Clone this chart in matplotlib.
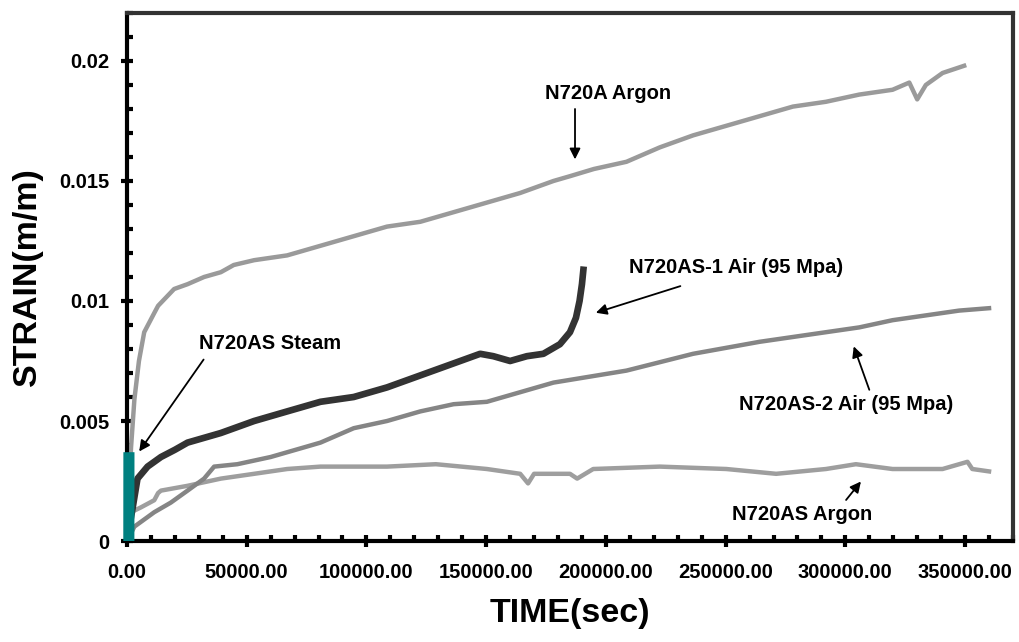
import matplotlib
matplotlib.use("Agg")
import matplotlib.pyplot as plt
from matplotlib.ticker import MultipleLocator, FuncFormatter

plt.rcParams['font.family'] = ['Liberation Sans', 'DejaVu Sans']
plt.rcParams['font.weight'] = 'bold'

# ---- data (time in sec, strain in m/m) ----
t_n720a_ar = [0, 800, 1700, 3100, 5000, 7200, 11400, 13000, 19700, 25300, 32200, 39200,
              44600, 53100, 66900, 80800, 94700, 108600, 122500, 136400, 150300, 164200,
              178100, 185000, 195000, 208600, 222500, 236400, 250300, 264200, 278100,
              291900, 305800, 319700, 326700, 330000, 333600, 340600, 349600]
s_n720a_ar = [0, 0.0020, 0.0039, 0.0059, 0.0075, 0.0087, 0.0095, 0.0098, 0.0105, 0.0107,
              0.0110, 0.0112, 0.0115, 0.0117, 0.0119, 0.0123, 0.0127, 0.0131, 0.0133,
              0.0137, 0.0141, 0.0145, 0.0150, 0.0152, 0.0155, 0.0158, 0.0164, 0.0169,
              0.0173, 0.0177, 0.0181, 0.0183, 0.0186, 0.0188, 0.0191, 0.0184, 0.0190,
              0.0195, 0.0198]

t_as_ar = [0, 1700, 5800, 11400, 13000, 14200, 25300, 39200, 53100, 66900, 80800, 94700,
           108600, 129000, 150300, 164200, 167500, 170000, 178100, 185000, 188000, 194700,
           222500, 250300, 271100, 291900, 304400, 319700, 340600, 351000, 353000, 360000]
s_as_ar = [0, 0.0012, 0.0014, 0.0017, 0.0020, 0.0021, 0.0023, 0.0026, 0.0028, 0.0030,
           0.0031, 0.0031, 0.0031, 0.0032, 0.0030, 0.0028, 0.0024, 0.0028, 0.0028, 0.0028,
           0.0026, 0.0030, 0.0031, 0.0030, 0.0028, 0.0030, 0.0032, 0.0030, 0.0030, 0.0033,
           0.0030, 0.0029]

t_as2_air = [0, 3100, 11400, 18300, 25300, 32200, 36400, 46100, 60000, 73900, 80800, 94700,
             108600, 122500, 136400, 150300, 164200, 178100, 208600, 236400, 264200,
             291900, 305800, 319700, 333600, 347500, 360000]
s_as2_air = [0, 0.0006, 0.0012, 0.0016, 0.0021, 0.0026, 0.0031, 0.0032, 0.0035, 0.0039,
             0.0041, 0.0047, 0.0050, 0.0054, 0.0057, 0.0058, 0.0062, 0.0066, 0.0071,
             0.0078, 0.0083, 0.0087, 0.0089, 0.0092, 0.0094, 0.0096, 0.0097]

t_as1_air = [0, 2400, 4400, 8600, 14200, 20000, 25300, 39200, 53100, 66900, 80800, 94700,
             108600, 122500, 136400, 147500, 153000, 160000, 167000, 173900, 180800,
             185000, 187500, 189000, 190000, 190600]
s_as1_air = [0, 0.0014, 0.0026, 0.0031, 0.0035, 0.0038, 0.0041, 0.0045, 0.0050, 0.0054,
             0.0058, 0.0060, 0.0064, 0.0069, 0.0074, 0.0078, 0.0077, 0.0075, 0.0077,
             0.0078, 0.0082, 0.0087, 0.0093, 0.0100, 0.0107, 0.0113]

t_steam = [780, 790, 800, 810, 820]
s_steam = [0, 0.0010, 0.0020, 0.0030, 0.0037]

xticks = [0, 50000, 100000, 150000, 200000, 250000, 300000, 350000]
yticks = [0, 0.005, 0.01, 0.015, 0.02]
ylabels = ['0', '0.005', '0.01', '0.015', '0.02']

fig = plt.figure(figsize=(10.19, 6.42), dpi=100)
ax = fig.add_axes([0.1246, 0.1573, 0.8695, 0.8225])

ax.plot(t_n720a_ar, s_n720a_ar, color='#9a9a9a', lw=3.2)
ax.plot(t_as_ar, s_as_ar, color='#9e9e9e', lw=3.2)
ax.plot(t_as2_air, s_as2_air, color='#858585', lw=3.2)
ax.plot(t_as1_air, s_as1_air, color='#333333', lw=4.8)
# steam run is a dense vertical scribble drawn over the axis line
ax.plot(t_steam, s_steam, color='#008080', lw=8, solid_capstyle='butt', clip_on=False, zorder=5)
ax.plot([t_steam[0]], [s_steam[0] + 0.0002], '+', color='#008080', ms=7, mew=1.5,
        clip_on=False, zorder=5)

ax.set_xlim(0, 370000)
ax.set_ylim(0, 0.022)
ax.set_xticks(xticks)
ax.xaxis.set_major_formatter(FuncFormatter(lambda v, p: f'{v:.2f}'))
ax.xaxis.set_minor_locator(MultipleLocator(10000))
ax.set_yticks(yticks)
ax.set_yticklabels(ylabels)
ax.yaxis.set_minor_locator(MultipleLocator(0.001))

ax.tick_params(which='major', direction='inout', length=9, width=3, color='black',
               labelsize=14.5, pad=8)
ax.tick_params(which='minor', direction='in', length=4, width=3, color='black')
ax.tick_params(axis='x', which='major', pad=11)
for lab in ax.get_xticklabels() + ax.get_yticklabels():
    lab.set_fontweight('bold')

for side in ('left', 'bottom'):
    ax.spines[side].set_linewidth(3)
    ax.spines[side].set_color('black')
for side in ('top', 'right'):
    ax.spines[side].set_linewidth(3)
    ax.spines[side].set_color('#333333')

ax.set_xlabel('TIME(sec)', fontsize=24.5, fontweight='bold', labelpad=12)
ax.set_ylabel('STRAIN(m/m)', fontsize=24.5, fontweight='bold', labelpad=12)

# annotations
arrow = dict(arrowstyle='-|>', color='black', lw=1.3, mutation_scale=16, shrinkA=0, shrinkB=0)
tkw = dict(fontsize=14.5, fontweight='bold', ha='center', va='center')

ax.text(200800, 0.01866, 'N720A Argon', **tkw)
ax.annotate('', xy=(187100, 0.0159), xytext=(187100, 0.0180), arrowprops=arrow)

ax.text(254200, 0.0114, 'N720AS-1 Air (95 Mpa)', **tkw)
ax.annotate('', xy=(195800, 0.00951), xytext=(231100, 0.01062), arrowprops=arrow)

ax.text(300400, 0.00568, 'N720AS-2 Air (95 Mpa)', **tkw)
ax.annotate('', xy=(303500, 0.00811), xytext=(310000, 0.0063), arrowprops=arrow)

ax.text(282000, 0.00109, 'N720AS Argon', **tkw)
ax.annotate('', xy=(306500, 0.00248), xytext=(300300, 0.00171), arrowprops=arrow)

ax.text(59600, 0.00823, 'N720AS Steam', **tkw)
ax.annotate('', xy=(5100, 0.00373), xytext=(32000, 0.00756), arrowprops=arrow)

fig.savefig('out.png', dpi=100)
